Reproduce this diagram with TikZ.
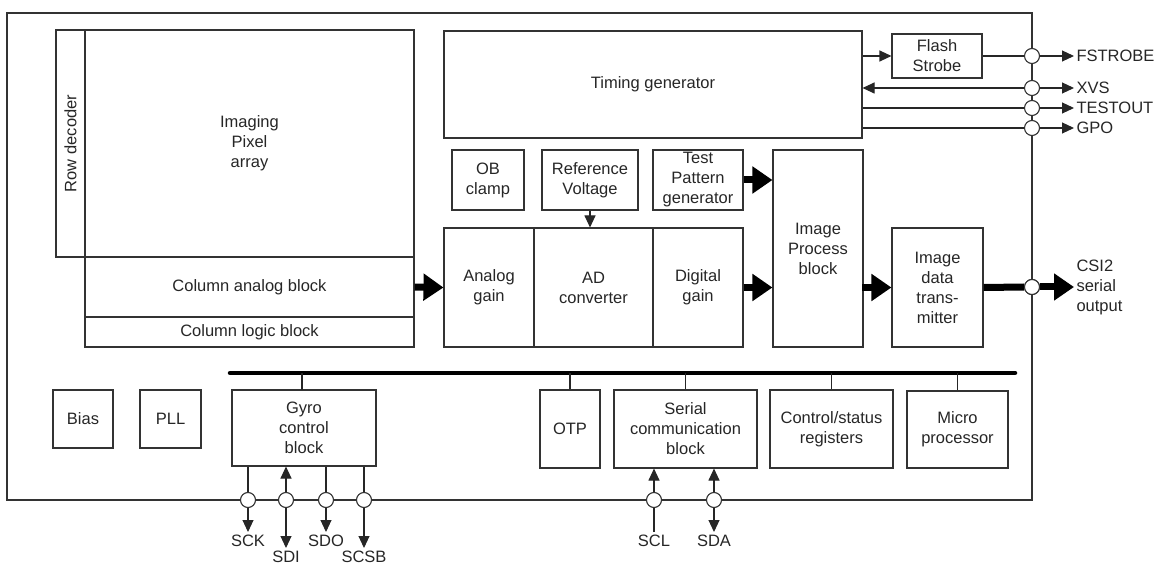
\documentclass[tikz,border=0pt]{standalone}
\usepackage{fontspec}
\setmainfont{Liberation Sans}
\usetikzlibrary{arrows.meta,calc}
\begin{document}
\begin{tikzpicture}[x=1pt,y=-1pt,
  font=\fontsize{16.5}{20}\selectfont,
  line width=1.1pt, draw=black!85,
  blk/.style={draw=black!80, line width=1.1pt, inner sep=0pt, align=center, text=black!85},
  pinc/.style={circle, draw=black!80, fill=white, line width=1.1pt, minimum size=15pt, inner sep=0pt},
  sig/.style={font=\fontsize{16.5}{20}\selectfont, inner sep=2pt, text=black!85},
  thin/.style={line width=1.1pt, draw=black!85},
  ar/.style={thin, -{Triangle[length=12pt,width=11pt]}},
  ral/.style={thin, {Triangle[length=12pt,width=11pt]}-},
  fat/.style={line width=7pt, draw=black, -{Triangle[length=20pt,width=26pt]}},
  fatl/.style={line width=7pt, draw=black}
]
\useasboundingbox (0,0) rectangle (1160,564);
% outer frame
\node[blk, minimum width=1025pt, minimum height=487pt] (chip) at (519.5,256.5) {};
% pixel array area
\node[blk, minimum width=29pt, minimum height=227pt] (rowdec) at (70.5,143.5) {};
\node[rotate=90, text=black!85] (rowdectxt) at (70.5,143.5) {Row decoder};
\node[blk, minimum width=329pt, minimum height=227pt] (pix) at (249.5,143.5) {Imaging\\Pixel\\array};
\node[blk, minimum width=329pt, minimum height=60pt] (colan) at (249.5,287) {Column analog block};
\node[blk, minimum width=329pt, minimum height=30pt] (collog) at (249.5,332) {Column logic block};
% timing
\node[blk, minimum width=418pt, minimum height=107pt] (tg) at (653,84.5) {Timing generator};
\node[blk, minimum width=90pt, minimum height=44pt] (fs) at (937,56) {Flash\\Strobe};
% middle row
\node[blk, minimum width=72pt, minimum height=60pt] (ob) at (488,180) {OB\\clamp};
\node[blk, minimum width=96pt, minimum height=60pt] (rv) at (590,180) {Reference\\Voltage};
\node[blk, minimum width=90pt, minimum height=60pt] (tp) at (698,180) {Test\\Pattern\\generator};
\node[blk, minimum width=90pt, minimum height=119pt] (ag) at (489,287.5) {Analog\\gain};
\node[blk, minimum width=119pt, minimum height=119pt] (adc) at (593.5,287.5) {AD\\converter};
\node[blk, minimum width=90pt, minimum height=119pt] (dg) at (698,287.5) {Digital\\gain};
\node[blk, minimum width=90pt, minimum height=197pt] (ip) at (818,248.5) {Image\\Process\\block};
\node[blk, minimum width=91pt, minimum height=119pt] (tx) at (937.5,287.5) {Image\\data\\trans-\\mitter};
% bottom row
\node[blk, minimum width=60pt, minimum height=58pt] (bias) at (83,419) {Bias};
\node[blk, minimum width=61pt, minimum height=58pt] (pll) at (170.5,419) {PLL};
\node[blk, minimum width=144pt, minimum height=76pt] (gyro) at (304,428) {Gyro\\control\\block};
\node[blk, minimum width=60pt, minimum height=78pt] (otp) at (570,429) {OTP};
\node[blk, minimum width=143pt, minimum height=78pt] (scb) at (685.5,429) {Serial\\communication\\block};
\node[blk, minimum width=123pt, minimum height=78pt] (csr) at (831.5,429) {Control/status\\registers};
\node[blk, minimum width=101pt, minimum height=77pt] (mp) at (957.5,429.5) {Micro\\processor};
% bus
\coordinate (busL) at (230,373);
\coordinate (busR) at (1015,373);
\draw[line width=4.5pt, line cap=round, draw=black] (busL) -- (busR);
\draw[thin] (302,373) -- (302,390);
\draw[thin] (otp.north) -- (otp.north |- busL);
\draw[thin] (scb.north) -- (scb.north |- busL);
\draw[thin] (csr.north) -- (csr.north |- busL);
\draw[thin] (mp.north) -- (mp.north |- busL);
% internal arrows
\draw[ar] (rv.south) -- (rv.south |- adc.north);
\draw[fat] (colan.east) -- (ag.west);
\draw[fat] (dg.east) -- (dg.east -| ip.west);
\draw[fat] (tp.east) -- (tp.east -| ip.west);
\draw[fat] (ip.west |- tx.west) ++(90,0) -- (tx.west);
% right side pins
\node[pinc] (cF) at (1032,56) {};
\node[pinc] (cX) at (1032,88) {};
\node[pinc] (cT) at (1032,108) {};
\node[pinc] (cG) at (1032,128) {};
\node[pinc] (cC) at (1032,287) {};
\node[sig, anchor=west] (lF) at (1074,56) {FSTROBE};
\node[sig, anchor=west] (lX) at (1074,88) {XVS};
\node[sig, anchor=west] (lT) at (1074,108) {TESTOUT};
\node[sig, anchor=west] (lG) at (1074,128) {GPO};
\node[sig, anchor=west, align=left] (lC) at (1074,287) {CSI2\\serial\\output};
\draw[ar] (tg.east |- fs.west) -- (fs.west);
\draw[thin] (fs.east) -- (cF.west);
\draw[ar] (cF.east) -- (lF.west);
\draw[ral] (tg.east |- cX) -- (cX.west);
\draw[ar] (cX.east) -- (lX.west);
\draw[thin] (tg.east |- cT) -- (cT.west);
\draw[ar] (cT.east) -- (lT.west);
\draw[thin] (tg.east |- cG) -- (cG.west);
\draw[ar] (cG.east) -- (lG.west);
\draw[fatl] (tx.east) -- (cC.west);
\draw[fat] (cC.east) -- (lC.west);
\node[pinc] at (1032,287) {};
% bottom pins (gyro)
\node[pinc] (cSCK) at (248,500) {};
\node[pinc] (cSDI) at (286,500) {};
\node[pinc] (cSDO) at (326,500) {};
\node[pinc] (cSCSB) at (364,500) {};
\node[sig, anchor=north] (lSCK) at (248,532) {SCK};
\node[sig, anchor=north] (lSDI) at (286,548) {SDI};
\node[sig, anchor=north] (lSDO) at (326,532) {SDO};
\node[sig, anchor=north] (lSCSB) at (364,548) {SCSB};
\draw[thin] (gyro.south -| cSCK) -- (cSCK.north);
\draw[ar] (cSCK.south) -- (lSCK.north);
\draw[ar] (cSDI.north) -- (gyro.south -| cSDI);
\draw[ar] (cSDI.south) -- (lSDI.north);
\draw[thin] (gyro.south -| cSDO) -- (cSDO.north);
\draw[ar] (cSDO.south) -- (lSDO.north);
\draw[thin] (gyro.south -| cSCSB) -- (cSCSB.north);
\draw[ar] (cSCSB.south) -- (lSCSB.north);
% serial pins
\node[pinc] (cSCL) at (654,500) {};
\node[pinc] (cSDA) at (714,500) {};
\node[sig, anchor=north] (lSCL) at (654,532) {SCL};
\node[sig, anchor=north] (lSDA) at (714,532) {SDA};
\draw[thin] (lSCL.north) -- (cSCL.south);
\draw[ar] (cSCL.north) -- (scb.south -| cSCL);
\draw[ar] (cSDA.north) -- (scb.south -| cSDA);
\draw[ar] (cSDA.south) -- (lSDA.north);
\end{tikzpicture}
\end{document}
